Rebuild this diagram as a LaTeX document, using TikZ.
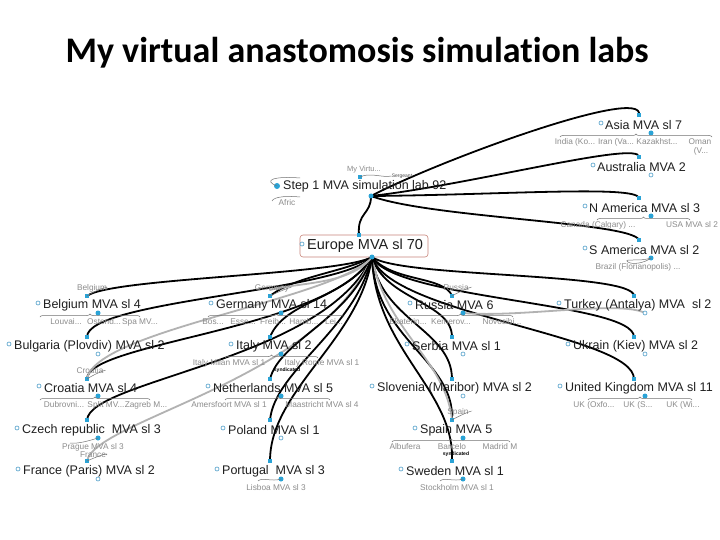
\documentclass[tikz,border=0pt]{standalone}
\usepackage{fontspec}
\setmainfont{Liberation Sans}
\newfontfamily\titlefont[Ligatures={NoCommon,NoRequired,NoContextual}]{Carlito}
\usetikzlibrary{decorations.pathreplacing}
\definecolor{dotblue}{HTML}{2AA3D6}
\definecolor{ocblue}{HTML}{4A9CC8}
\definecolor{boxred}{HTML}{C8857A}
\pgfdeclarelayer{back}
\pgfdeclarelayer{bg}
\pgfsetlayers{back,bg,main}
\tikzset{
 lab/.style={font=\fontsize{12.5}{14}\selectfont, text=black!88, inner sep=0pt, anchor=west},
 sub/.style={font=\fontsize{8.3}{9}\selectfont, text=black!45, inner sep=0pt},
 synd/.style={font=\bfseries\fontsize{5}{6}\selectfont, text=black, inner sep=0pt},
 tdot/.style={fill=dotblue, rectangle, minimum size=4.5pt, inner sep=0pt},
 hdot/.style={fill=dotblue, circle, minimum size=5pt, inner sep=0pt},
 oc/.style={draw=ocblue, fill=white, circle, minimum size=4pt, inner sep=0pt, line width=0.6pt},
 conn/.style={line width=1.8pt, black, line cap=round},
 gconn/.style={line width=1.8pt, black!30, line cap=round},
 brc/.style={decorate, decoration={brace, amplitude=3pt}, line width=0.5pt, black!55},
 lp/.style={line width=0.5pt, black!55},
}
\begin{document}
\begin{tikzpicture}[x=1pt, y=-1pt]
\useasboundingbox (0,0) rectangle (720,540);
\begin{pgfonlayer}{back}
\fill[white] (0,0) rectangle (720,540);
\end{pgfonlayer}

% title
\node[font=\titlefont\bfseries\fontsize{36}{40}\selectfont, anchor=base, inner sep=0pt] (title) at (357,63) {My virtual anastomosis simulation labs};

% ---------- Step 1 ----------
\node[lab] (step) at (283,186) {Step 1 MVA simulation lab 92};
\node[hdot, minimum size=6pt] (stepdot) at (277,186) {};
\node[hdot] (steph) at (371,196) {};
\node[tdot] (myv) at (360,177) {};
\node[sub, font=\fontsize{7.5}{8}\selectfont] (myvt) at (364,170) {My Virtu...};
\node[sub, text=black!70, font=\fontsize{5}{6}\selectfont] (serg) at (402,176) {Sergeant};
\node[sub] (afric) at (287,203) {Afric};
\draw[lp] (myv.center) .. controls (370,172) and (382,178) .. (serg.west);
\draw[lp] (stepdot.center) .. controls (262,180) and (275,176) .. (300,178);
\draw[lp] (272,201) .. controls (274,196) and (290,196) .. (300,197);

% ---------- Europe ----------
\node[lab, font=\fontsize{14.5}{16}\selectfont] (europe) at (307,246) {Europe MVA sl 70};
\draw[boxred, line width=0.6pt, rounded corners=3pt] (300,235) rectangle (428,257);
\node[oc] (europeoc) at (302,244) {};
\node[tdot] (europet) at (359,235) {};
\node[hdot] (eh) at (372,257) {};

% ---------- right column (Step 1 children) ----------
\node[lab] (asia) at (605,125) {Asia MVA sl 7};
\node[oc] (asiaoc) at (601,123) {};
\node[tdot] (asiat) at (639,115) {};
\node[hdot] (asiah) at (651,133) {};
\draw[brc] (560,137) -- (712,137);
\node[sub] (asia1) at (575,142) {India (Ko...};
\node[sub] (asia2) at (616,142) {Iran (Va...};
\node[sub] (asia3) at (657,142) {Kazakhst...};
\node[sub] (asia4) at (700,142) {Oman};
\node[sub] (asia5) at (701,151) {(V...};

\node[lab] (austr) at (597,167) {Australia MVA 2};
\node[oc] (austroc) at (593,165) {};
\node[tdot] (austrt) at (639,157) {};
\node[oc] (austrh) at (651,175) {};

\node[lab] (nam) at (589,208) {N America MVA sl 3};
\node[oc] (namoc) at (585,206) {};
\node[tdot] (namt) at (639,198) {};
\node[hdot] (namh) at (651,216) {};
\draw[brc] (597,220) -- (690,220);
\node[sub] (nam1) at (598,225) {Canada (Calgary) ...};
\node[sub] (nam2) at (692,225) {USA MVA sl 2};

\node[lab] (sam) at (589,250) {S America MVA sl 2};
\node[oc] (samoc) at (585,248) {};
\node[tdot] (samt) at (639,240) {};
\node[hdot] (samh) at (651,258) {};
\draw[lp] (samh.center) .. controls (640,262) and (622,258) .. (628,262) .. controls (632,265) and (645,263) .. (samh.center);
\node[sub] (sam1) at (638,267) {Brazil (Florianopolis) ...};

% ---------- Europe children: column 1 ----------
\node[lab] (bel) at (43,305) {Belgium MVA sl 4};
\node[oc] (beloc) at (38,303) {};
\node[tdot] (belt) at (87,296) {};
\node[hdot] (belh) at (98,313) {};
\node[sub] (beltag) at (92,288) {Belgium};
\draw[lp] (belt.center) .. controls (96,290) and (108,286) .. (beltag.east);
\draw[brc] (40,317) -- (140,317);
\node[sub] (bel1) at (66,322) {Louvai...};
\node[sub] (bel2) at (104,322) {Ostend...};
\node[sub] (bel3) at (140,322) {Spa MV...};

\node[lab] (bul) at (14,346) {Bulgaria (Plovdiv) MVA sl 2};
\node[oc] (buloc) at (9,344) {};
\node[tdot] (bult) at (87,337) {};
\node[oc] (bulh) at (98,354) {};

\node[lab] (cro) at (44,388) {Croatia MVA sl 4};
\node[oc] (crooc) at (39,386) {};
\node[tdot] (crot) at (87,379) {};
\node[hdot] (croh) at (98,396) {};
\node[sub] (crotag) at (90,371) {Croatia};
\draw[lp] (crot.center) .. controls (96,373) and (108,369) .. (crotag.east);
\draw[brc] (40,400) -- (150,400);
\node[sub] (cro1) at (64,405) {Dubrovni...};
\node[sub] (cro2) at (106,405) {Split MV...};
\node[sub] (cro3) at (146,405) {Zagreb M...};

\node[lab] (cze) at (22,430) {Czech republic\ \ MVA sl 3};
\node[oc] (czeoc) at (17,428) {};
\node[tdot] (czet) at (87,420) {};
\node[hdot] (czeh) at (98,438) {};
\draw[lp] (czeh.center) .. controls (88,441) and (78,444) .. (70,443);
\node[sub] (cze1) at (93,447) {Prague MVA sl 3};

\node[lab] (fra) at (23,471) {France (Paris) MVA sl 2};
\node[oc] (fraoc) at (18,469) {};
\node[tdot] (frat) at (87,461) {};
\node[oc] (frah) at (98,479) {};
\node[sub] (fratag) at (93,455) {France};
\draw[lp] (frat.center) .. controls (98,456) and (110,452) .. (fratag.east);

% ---------- column 2 ----------
\node[lab] (ger) at (216,305) {Germany MVA sl 14};
\node[oc] (geroc) at (211,303) {};
\node[tdot] (gert) at (270,296) {};
\node[hdot] (gerh) at (281,313) {};
\node[sub] (gertag) at (272,288) {Germany};
\draw[lp] (gert.center) .. controls (282,290) and (294,286) .. (gertag.east);
\draw[brc] (208,317) -- (344,317);
\node[sub] (ger1) at (213,322) {Bos...};
\node[sub] (ger2) at (243,322) {Esse...};
\node[sub] (ger3) at (273,322) {Freib...};
\node[sub] (ger4) at (304,322) {Hamb...};
\node[sub] (ger5) at (334,322) {Lei...};

\node[lab] (ita) at (236,346) {Italy MVA sl 2};
\node[oc] (itaoc) at (231,344) {};
\node[tdot] (itat) at (270,337) {};
\node[hdot] (itah) at (281,354) {};
\draw[brc] (225,358) -- (318,358);
\node[sub] (ita1) at (229,363) {Italy Milan MVA sl 1};
\node[sub] (ita2) at (322,363) {Italy Rome MVA sl 1};
\node[synd] (ita3) at (287,370) {syndicated};

\node[lab] (net) at (213,388) {Netherlands MVA sl 5};
\node[oc] (netoc) at (208,386) {};
\node[tdot] (nett) at (270,379) {};
\node[hdot] (neth) at (281,396) {};
\draw[brc] (225,400) -- (330,400);
\node[sub] (net1) at (229,405) {Amersfoort MVA sl 1};
\node[sub] (net2) at (322,405) {Maastricht MVA sl 4};

\node[lab] (pol) at (228,430) {Poland MVA sl 1};
\node[oc] (poloc) at (223,428) {};
\node[tdot] (polt) at (270,420) {};
\node[oc] (polh) at (281,438) {};

\node[lab] (por) at (222,471) {Portugal\ \ MVA sl 3};
\node[oc] (poroc) at (217,469) {};
\node[tdot] (port) at (270,461) {};
\node[hdot] (porh) at (281,479) {};
\draw[lp] (porh.center) .. controls (272,482) and (262,477) .. (258,481);
\node[sub] (por1) at (276,488) {Lisboa MVA sl 3};

% ---------- column 3 ----------
\node[lab] (rus) at (415,305) {Russia MVA 6};
\node[oc] (rusoc) at (410,303) {};
\node[tdot] (rust) at (452,296) {};
\node[hdot] (rush) at (463,313) {};
\node[sub] (rustag) at (456,288) {Russia};
\draw[lp] (rust.center) .. controls (462,290) and (474,286) .. (rustag.east);
\draw[brc] (408,317) -- (513,317);
\node[sub] (rus1) at (408,322) {Ekaterin...};
\node[sub] (rus2) at (451,322) {Kemerov...};
\node[sub] (rus3) at (502,322) {Novosibi...};

\node[lab] (ser) at (412,346) {Serbia MVA sl 1};
\node[oc] (seroc) at (407,344) {};
\node[tdot] (sert) at (452,337) {};
\node[oc] (serh) at (463,354) {};

\node[lab] (slo) at (377,388) {Slovenia (Maribor) MVA sl 2};
\node[oc] (slooc) at (372,386) {};
\node[tdot] (slot) at (452,379) {};
\node[oc] (sloh) at (463,396) {};

\node[lab] (spa) at (420,430) {Spain MVA 5};
\node[oc] (spaoc) at (415,428) {};
\node[tdot] (spat) at (452,420) {};
\node[hdot] (spah) at (463,438) {};
\node[sub] (spatag) at (458,412) {Spain};
\draw[lp] (spat.center) .. controls (462,414) and (474,410) .. (spatag.east);
\draw[brc] (392,442) -- (510,442);
\node[sub] (spa1) at (405,447) {Albufera};
\node[sub] (spa2) at (452,447) {Barcelo};
\node[sub] (spa3) at (500,447) {Madrid M};
\node[synd] (spa4) at (456,454) {syndicated};

\node[lab] (swe) at (406,471) {Sweden MVA sl 1};
\node[oc] (sweoc) at (401,469) {};
\node[tdot] (swet) at (452,461) {};
\node[hdot] (sweh) at (463,479) {};
\draw[lp] (sweh.center) .. controls (454,482) and (444,477) .. (440,481);
\node[sub] (swe1) at (457,488) {Stockholm MVA sl 1};

% ---------- column 4 ----------
\node[lab] (tur) at (564,305) {Turkey (Antalya) MVA\ \ sl 2};
\node[oc] (turoc) at (559,303) {};
\node[tdot] (turt) at (634,296) {};
\node[oc] (turh) at (645,313) {};

\node[lab] (ukr) at (573,346) {Ukrain (Kiev) MVA sl 2};
\node[oc] (ukroc) at (568,344) {};
\node[tdot] (ukrt) at (634,337) {};
\node[oc] (ukrh) at (645,354) {};

\node[lab] (uk) at (565,388) {United Kingdom MVA sl 11};
\node[oc] (ukoc) at (560,386) {};
\node[tdot] (ukt) at (634,379) {};
\node[hdot] (ukh) at (645,396) {};
\draw[brc] (588,400) -- (692,400);
\node[sub] (uk1) at (594,405) {UK (Oxfo...};
\node[sub] (uk2) at (638,405) {UK (S...};
\node[sub] (uk3) at (683,405) {UK (Wi...};

% ---------- connectors ----------
\begin{pgfonlayer}{bg}
% Step 1 children
\draw[conn] (steph.center) .. controls (371,215) and (357,212) .. (europet.center);
\draw[conn] (steph.center) .. controls (440,160) and (645,85) .. (asiat.center);
\draw[conn] (steph.center) .. controls (470,185) and (640,140) .. (austrt.center);
\draw[conn] (steph.center) .. controls (500,195) and (636,185) .. (namt.center);
\draw[conn] (steph.center) .. controls (430,218) and (632,222) .. (samt.center);
% column 1
\draw[conn] (eh.center) .. controls (340,275) and (110,278) .. (belt.center);
\draw[conn] (eh.center) .. controls (340,292) and (87,300) .. (bult.center);
\draw[conn] (eh.center) .. controls (330,330) and (87,342) .. (crot.center);
\draw[conn] (eh.center) .. controls (325,360) and (90,380) .. (czet.center);
\draw[gconn] (eh.center) .. controls (335,300) and (95,330) .. (crot.center);
\draw[gconn] (eh.center) .. controls (320,380) and (95,420) .. (frat.center);
% column 2
\draw[conn] (eh.center) .. controls (345,272) and (295,276) .. (gert.center);
\draw[conn] (eh.center) .. controls (345,300) and (285,300) .. (itat.center);
\draw[conn] (eh.center) .. controls (350,320) and (280,340) .. (nett.center);
\draw[conn] (eh.center) .. controls (355,330) and (275,370) .. (polt.center);
\draw[conn] (eh.center) .. controls (360,340) and (270,390) .. (port.center);
\draw[gconn] (eh.center) .. controls (350,285) and (300,282) .. (270,290);
% column 3
\draw[conn] (eh.center) .. controls (392,282) and (445,276) .. (rust.center);
\draw[conn] (eh.center) .. controls (385,300) and (452,302) .. (sert.center);
\draw[conn] (eh.center) .. controls (380,320) and (452,330) .. (slot.center);
\draw[conn] (eh.center) .. controls (375,340) and (455,360) .. (spat.center);
\draw[gconn] (eh.center) .. controls (385,330) and (446,360) .. (spat.center);
\draw[conn] (eh.center) .. controls (375,350) and (455,390) .. (swet.center);
% column 4
\draw[conn] (eh.center) .. controls (400,278) and (634,272) .. (turt.center);
\draw[conn] (eh.center) .. controls (395,300) and (634,302) .. (ukrt.center);
\draw[conn] (eh.center) .. controls (390,315) and (634,335) .. (ukt.center);
\draw[gconn] (rush.center) .. controls (520,318) and (620,300) .. (turh.center);
\end{pgfonlayer}
\end{tikzpicture}
\end{document}
